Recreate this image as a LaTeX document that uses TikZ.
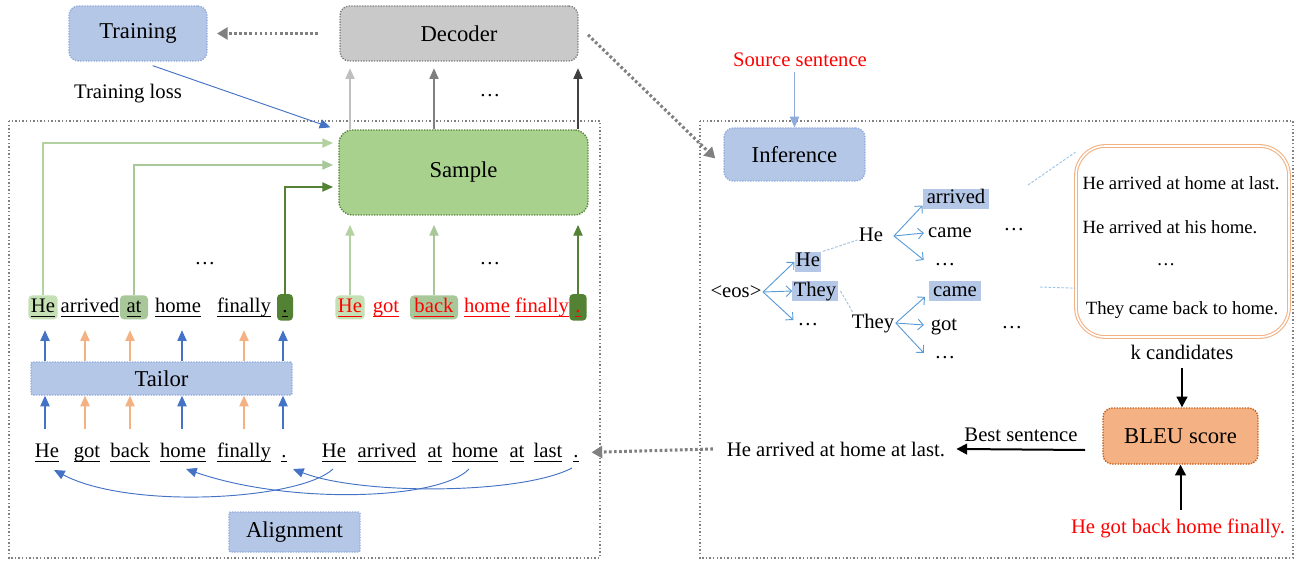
\documentclass[tikz,border=0pt]{standalone}
\usepackage{fontspec}
\setmainfont{Liberation Serif}
\usetikzlibrary{arrows.meta,fit}
\newcommand\fbig{\fontsize{17}{20}\selectfont}
\newcommand\fnorm{\fontsize{15.5}{18}\selectfont}
\newcommand\fsml{\fontsize{14}{16}\selectfont}
% word-processor style underline at a fixed depth
\newcommand\ulw[1]{\setbox0=\hbox{#1}\rlap{\rule[-3.6pt]{\wd0}{0.7pt}}\box0}
\definecolor{bfill}{HTML}{B4C7E7}
\definecolor{bline}{HTML}{8FAADC}
\definecolor{gfill}{HTML}{A9D18E}
\definecolor{gdark}{HTML}{548235}
\definecolor{glight}{HTML}{C5E0B4}
\definecolor{gmid}{HTML}{A8C89A}
\definecolor{dfill}{HTML}{C9C9C9}
\definecolor{dline}{HTML}{7F7F7F}
\definecolor{ofill}{HTML}{F4B183}
\definecolor{oline}{HTML}{C55A11}
\definecolor{ablue}{HTML}{4472C4}
\definecolor{tblue}{HTML}{5B9BD5}
\definecolor{dashblue}{HTML}{9DC3E6}
\definecolor{redtxt}{HTML}{FF0000}
\definecolor{frame}{HTML}{808080}
\definecolor{gl1}{HTML}{BFBFBF}
\definecolor{gl2}{HTML}{7F7F7F}
\definecolor{gl3}{HTML}{404040}
\tikzset{
  box/.style={rounded corners=7pt, line width=1pt, dash pattern=on 1pt off 1pt, inner sep=0pt},
  ttl/.style={label={[font=\fbig]center:#1}},
  bbox/.style={box, fill=bfill, draw=bline},
  sqbox/.style={bbox, rounded corners=1pt},
  tok/.style={font=\fnorm, anchor=base, inner xsep=1.5pt, inner ysep=1pt, text height=11.5pt, text depth=4.5pt, rounded corners=3pt},
  rtok/.style={tok, text=redtxt},
  dotbox/.style={text height=12.5pt, text depth=5.5pt, minimum width=12pt},
  tw/.style={font=\fnorm, inner sep=1pt, text height=10.5pt, text depth=3pt},
  arw/.style={line width=0.8pt, -{Triangle[width=7pt,length=8pt]}},
  barw/.style={line width=1.5pt, black, -{Triangle[width=8pt,length=8pt]}},
  tarr/.style={line width=0.7pt, tblue, -{Straight Barb[length=4pt,width=8pt]}},
  tdash/.style={line width=0.7pt, dashblue, dash pattern=on 2pt off 1.2pt},
  gdot/.style={line width=2.3pt, frame, dash pattern=on 2pt off 1.8pt, -{Triangle[width=9pt,length=8pt]}},
  framebox/.style={draw=frame, line width=1.1pt, dash pattern=on 1.1pt off 1.6pt},
}
\begin{document}
\begin{tikzpicture}[x=0.75pt,y=-0.75pt]
\useasboundingbox (0,0) rectangle (1296,563);

% ---------- frames ----------
\draw[framebox] (9,121) rectangle (600,558);
\draw[framebox] (700,121) rectangle (1293,558);

% ---------- main blocks ----------
\node[bbox, ttl=Training, fit={(69,6) (207,61)}] (train) {};
\node[box, fill=dfill, draw=dline, ttl=Decoder, fit={(340,6) (578,61)}] (dec) {};
\node[box, fill=gfill, draw=gdark, rounded corners=10pt, ttl=Sample, fit={(339,130) (588,215)}] (sample) {};
\node[sqbox, ttl=Tailor, fit={(31,362) (292,395)}] (tailor) {};
\node[sqbox, ttl=Alignment, fit={(229,512) (360,552)}] (align) {};
\node[bbox, ttl=Inference, fit={(724,128) (865,181)}] (infer) {};
\node[box, fill=ofill, draw=oline, ttl=BLEU score, fit={(1103,408) (1258,464)}] (bleu) {};
\node[draw=ofill, double=white, double distance=1.2pt, line width=0.8pt, rounded corners=22pt, inner sep=0pt, fit={(1076,146) (1289,337)}] (cand) {};

% ---------- free labels ----------
\node[font=\fnorm] (tloss) at (128,94) {Training loss};
\node[font=\fnorm] (topdots) at (490,96) {…};
\node[font=\fnorm] (ldots) at (205,264) {…};
\node[font=\fnorm] (rdots) at (490,264) {…};
\node[font=\fnorm, text=redtxt] (src) at (800,60) {Source sentence};
\node[font=\fnorm] (kc) at (1182,352) {k candidates};
\node[font=\fnorm, text=redtxt] (gold) at (1178,528) {He got back home finally.};
\node[font=\fnorm] (bslab) at (1021,435) {Best sentence};
\node[font=\fnorm, anchor=base] (bestout) at (836,456) {He arrived at home at last.};

% ---------- candidate list ----------
\node[font=\fsml] (cA) at (1181,183) {He arrived at home at last.};
\node[font=\fsml] (cB) at (1170,227) {He arrived at his home.};
\node[font=\fsml] (cC) at (1166,265) {…};
\node[font=\fsml] (cD) at (1182,310) {They came back to home.};

% ---------- sampled tokens ----------
\node[tok, fill=glight, minimum width=22pt] (p1) at (43,312) {\ulw{He}};
\node[tok] (p2) at (90,312) {\ulw{arrived}};
\node[tok, fill=gmid, minimum width=21pt] (p3) at (134,312) {\ulw{at}};
\node[tok] (p4) at (178,312) {\ulw{home}};
\node[tok] (p5) at (244,312) {\ulw{finally}};
\node[tok, dotbox, fill=gdark] (p6) at (285,312) {\ulw{.}};

\node[rtok, fill=glight, minimum width=22pt] (r1) at (350,312) {\ulw{He}};
\node[rtok] (r2) at (386,312) {\ulw{got}};
\node[rtok, fill=gmid, minimum width=36pt] (r3) at (434,312) {\ulw{back}};
\node[rtok] (r4) at (487,312) {\ulw{home}};
\node[rtok] (r5) at (542,312) {\ulw{finally}};
\node[rtok, dotbox, fill=gdark, minimum width=13pt] (r6) at (578,312) {\ulw{.}};

% ---------- aligned input ----------
\node[tok] (q1) at (47,457) {\ulw{He}};
\node[tok] (q2) at (87,457) {\ulw{got}};
\node[tok] (q3) at (130,457) {\ulw{back}};
\node[tok] (q4) at (183,457) {\ulw{home}};
\node[tok] (q5) at (244,457) {\ulw{finally}};
\node[tok] (q6) at (284,457) {\ulw{.}};
\node[tok] (q7) at (334,457) {\ulw{He}};
\node[tok] (q8) at (387,457) {\ulw{arrived}};
\node[tok] (q9) at (435,457) {\ulw{at}};
\node[tok] (q10) at (475,457) {\ulw{home}};
\node[tok] (q11) at (517,457) {\ulw{at}};
\node[tok] (q12) at (548,457) {\ulw{last}};
\node[tok] (q13) at (576,457) {\ulw{.}};

% ---------- beam search tree ----------
\node[tw] (eos) at (736,292) {\textless eos\textgreater};
\node[tw, fill=bfill] (tHe) at (808,262) {He};
\node[tw, fill=bfill] (tThey) at (815,291) {They};
\node[tw] (tDots) at (808,320) {…};
\node[tw] (He2) at (871,236) {He};
\node[tw] (They2) at (873,323) {They};
\node[tw, fill=bfill, inner xsep=3pt] (arr) at (956,199) {arrived};
\node[tw] (came1) at (950,233) {came};
\node[tw] (dots1) at (945,260) {…};
\node[tw, fill=bfill, inner xsep=3pt] (came2) at (955,291) {came};
\node[tw] (got) at (944,325) {got};
\node[tw] (dots2) at (945,353) {…};
\node[tw] (dR1) at (1014,225) {…};
\node[tw] (dR2) at (1012,323) {…};

% ---------- connectors: top ----------
\draw[gdot] ([xshift=-16pt]dec.west) -- ([xshift=7pt]train.east);
\draw[gdot] ([xshift=7pt,yshift=-1pt]dec.east) -- ([xshift=-6pt,yshift=-3pt]infer.west);
\draw[arw, ablue, line width=0.7pt] ([xshift=11pt,yshift=-3pt]train.south) -- ([xshift=-6pt,yshift=1.5pt]sample.north west);
\draw[arw, gl1] (sample.north -| r1) -- ([yshift=-5pt]dec.south -| r1);
\draw[arw, gl2] (sample.north -| r3) -- ([yshift=-5pt]dec.south -| r3);
\draw[arw, gl3] (sample.north -| r6) -- ([yshift=-5pt]dec.south -| r6);

% ---------- connectors: into Sample ----------
\coordinate (s1) at (333,143);
\coordinate (s2) at (333,165);
\coordinate (s3) at (333,187);
\draw[arw, glight!85!gdark] (p1.north) |- (s1);
\draw[arw, gmid] (p3.north) |- (s2);
\draw[arw, gdark] (p6.north) |- (s3);
\draw[arw, glight!85!gdark] (r1.north) -- ([yshift=-7pt]sample.south -| r1);
\draw[arw, gmid] (r3.north) -- ([yshift=-7pt]sample.south -| r3);
\draw[arw, gdark] (r6.north) -- ([yshift=-7pt]sample.south -| r6);

% ---------- connectors: Tailor ----------
\coordinate (c1) at (45,0);
\coordinate (c2) at (85,0);
\coordinate (c3) at (130,0);
\coordinate (c4) at (182,0);
\coordinate (c5) at (244,0);
\coordinate (c6) at (283,0);
\foreach \c/\col in {c1/ablue, c2/ofill, c3/ofill, c4/ablue, c5/ofill, c6/ablue}{
  \draw[arw, \col] (\c |- tailor.north) -- ([yshift=-8pt]\c |- p1.south);
  \draw[arw, \col] ([yshift=8pt]\c |- q1.north) -- (\c |- tailor.south);
}

% ---------- connectors: alignment ----------
\draw[arw, ablue, line width=0.7pt] (333,469) .. controls (300,500) and (130,510) .. (54,470);
\draw[arw, ablue, line width=0.7pt] (469,469) .. controls (440,500) and (290,505) .. (186,469);
\draw[arw, ablue, line width=0.7pt] (572,468) .. controls (520,495) and (360,495) .. (293,469);

% ---------- connectors: right part ----------
\draw[arw, bline] (src.south -| infer.north) -- (infer.north);
\draw[tarr] (eos.east) -- (tHe.west);
\draw[tarr] (eos.east) -- (tThey.west);
\draw[tarr] (eos.east) -- ([xshift=-2pt]tDots.west);
\draw[tdash] ([xshift=1pt]tHe.north east) -- ([yshift=-3pt]He2.west);
\draw[tdash] ([xshift=2pt]tThey.east) -- ([xshift=2pt]They2.north west);
\draw[tarr] ([xshift=7pt]He2.east) -- ([yshift=3pt]arr.south west);
\draw[tarr] ([xshift=7pt]He2.east) -- ([xshift=-2pt]came1.west);
\draw[tarr] ([xshift=7pt]He2.east) -- ([xshift=-7pt]dots1.west);
\draw[tarr] (They2.east) -- ([xshift=-3pt,yshift=3.5pt]came2.south west);
\draw[tarr] (They2.east) -- ([xshift=-4pt]got.west);
\draw[tarr] (They2.east) -- ([xshift=-7pt]dots2.west);
\coordinate (la1) at (1028,185);
\coordinate (la2) at (1040,287);
\draw[tdash] (la1) -- ([yshift=-5pt]cand.north west);
\draw[tdash] (la2) -- ([yshift=-35pt]cand.west);
\draw[barw] ([yshift=-3pt]kc.south) -- (bleu.north -| kc.south);
\draw[barw] ([yshift=3pt]gold.north -| bleu.south) -- (bleu.south);
\coordinate (bsA) at (1085,450);
\draw[barw] (bsA) -- ([xshift=5pt]bestout.east);
\draw[gdot] ([xshift=-7pt]bestout.west) -- ([xshift=8pt]q13.east);
\end{tikzpicture}
\end{document}
